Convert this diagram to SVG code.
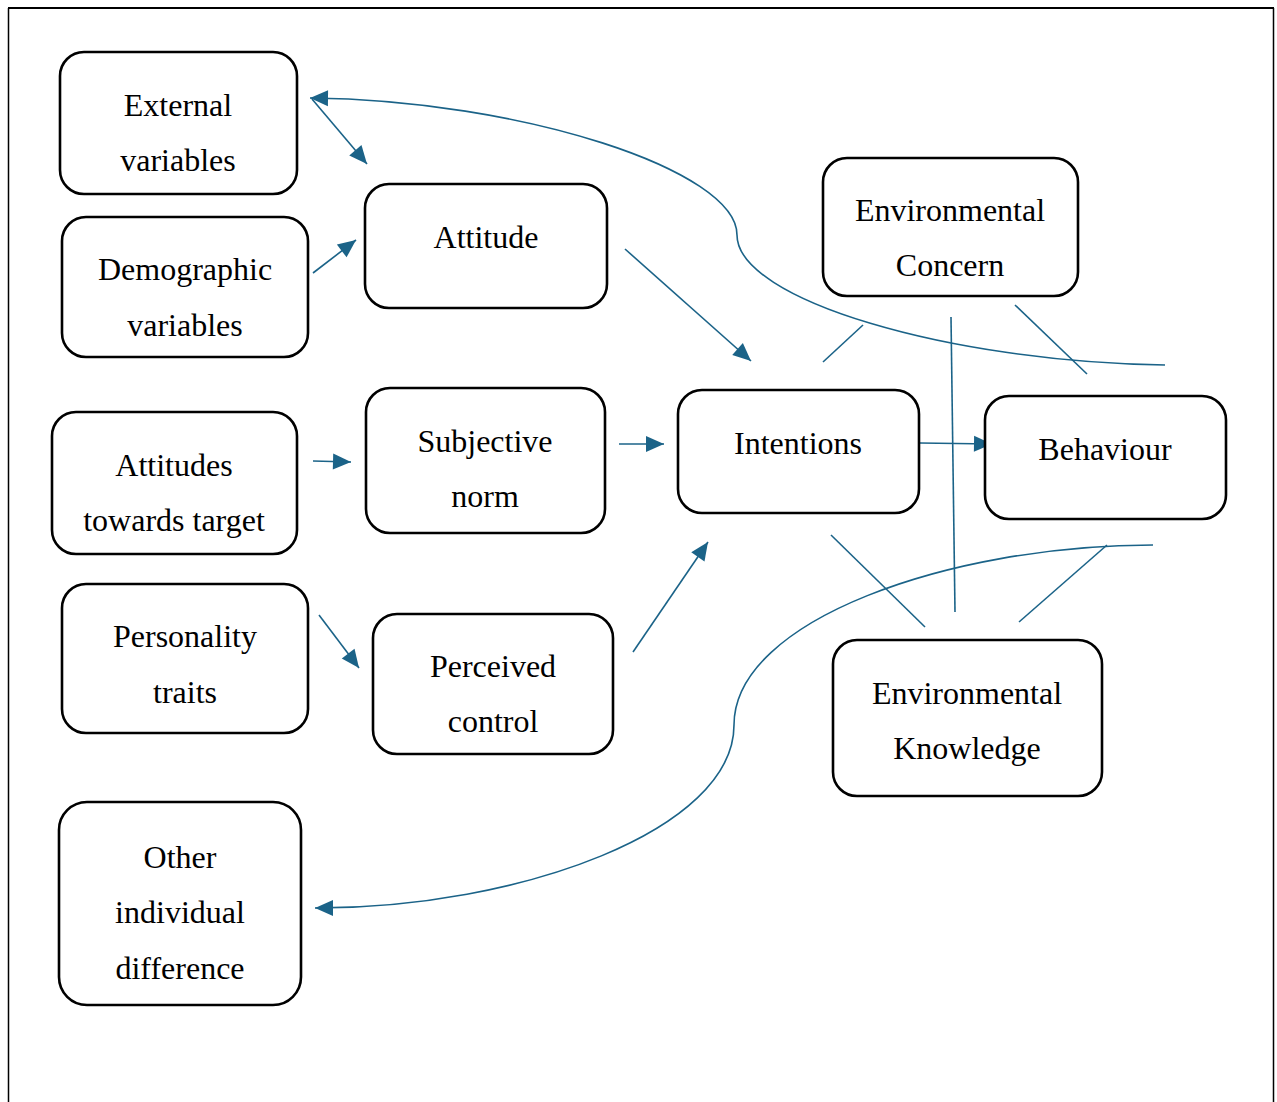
<svg xmlns="http://www.w3.org/2000/svg" width="1277" height="1102" viewBox="0 0 1277 1102">
  <style>
    .box { fill: #ffffff; stroke: #000000; stroke-width: 2.6; }
    .lbl { font-family: "Liberation Serif", "Times New Roman", serif; font-size: 32px; fill: #000000; text-anchor: middle; }
    .edge { fill: none; stroke: #1b6388; stroke-width: 1.6; }
    .frame { fill: none; stroke: #000000; }
  </style>
  <defs>
    <marker id="arrow" markerUnits="userSpaceOnUse" markerWidth="22" markerHeight="22" viewBox="0 0 22 22" refX="20" refY="11" orient="auto">
      <path d="M2,3 L20,11 L2,19 Z" fill="#1b6388"/>
    </marker>
  </defs>

  <rect width="1277" height="1102" fill="#ffffff"/>

  <!-- outer frame: top and sides only -->
  <g id="frame">
    <line class="frame" x1="8" y1="8" x2="1274" y2="8" stroke-width="2.2"/>
    <line class="frame" x1="8.5" y1="8" x2="8.5" y2="1102" stroke-width="1.5"/>
    <line class="frame" x1="1273.5" y1="8" x2="1273.5" y2="1102" stroke-width="1.5"/>
  </g>

  <g id="connectors">
    <path class="edge" d="M1165,365 C950,362 737,300 737,235 C737,170 520,100 310,98" marker-end="url(#arrow)"/>
    <line class="edge" x1="312" y1="99" x2="367" y2="164" marker-end="url(#arrow)"/>
    <line class="edge" x1="313" y1="273" x2="356" y2="240" marker-end="url(#arrow)"/>
    <line class="edge" x1="625" y1="249" x2="751" y2="361" marker-end="url(#arrow)"/>
    <line class="edge" x1="823" y1="362" x2="863" y2="325"/>
    <line class="edge" x1="313" y1="461" x2="351" y2="462" marker-end="url(#arrow)"/>
    <line class="edge" x1="619" y1="444" x2="664" y2="444" marker-end="url(#arrow)"/>
    <line class="edge" x1="920" y1="443" x2="992" y2="444" marker-end="url(#arrow)"/>
    <line class="edge" x1="951" y1="317" x2="955" y2="612"/>
    <line class="edge" x1="1015" y1="305" x2="1087" y2="374"/>
    <line class="edge" x1="831" y1="535" x2="925" y2="627"/>
    <line class="edge" x1="1019" y1="622" x2="1107" y2="545"/>
    <path class="edge" d="M1153,545 C950,545 734,620 734,725 C734,830 520,908 315,908" marker-end="url(#arrow)"/>
    <line class="edge" x1="319" y1="615" x2="359" y2="668" marker-end="url(#arrow)"/>
    <line class="edge" x1="633" y1="652" x2="708" y2="542" marker-end="url(#arrow)"/>
  </g>

  <g id="external-variables">
    <rect class="box" x="60" y="52" width="237" height="142" rx="24"/>
    <text class="lbl" x="178" y="116">External</text>
    <text class="lbl" x="178" y="171">variables</text>
  </g>
  <g id="demographic-variables">
    <rect class="box" x="62" y="217" width="246" height="140" rx="24"/>
    <text class="lbl" x="185" y="280">Demographic</text>
    <text class="lbl" x="185" y="336">variables</text>
  </g>
  <g id="attitude">
    <rect class="box" x="365" y="184" width="242" height="124" rx="24"/>
    <text class="lbl" x="486" y="248">Attitude</text>
  </g>
  <g id="attitudes-towards-target">
    <rect class="box" x="52" y="412" width="245" height="142" rx="24"/>
    <text class="lbl" x="174" y="476">Attitudes</text>
    <text class="lbl" x="174" y="531">towards target</text>
  </g>
  <g id="subjective-norm">
    <rect class="box" x="366" y="388" width="239" height="145" rx="24"/>
    <text class="lbl" x="485" y="452">Subjective</text>
    <text class="lbl" x="485" y="507">norm</text>
  </g>
  <g id="personality-traits">
    <rect class="box" x="62" y="584" width="246" height="149" rx="24"/>
    <text class="lbl" x="185" y="647">Personality</text>
    <text class="lbl" x="185" y="703">traits</text>
  </g>
  <g id="perceived-control">
    <rect class="box" x="373" y="614" width="240" height="140" rx="24"/>
    <text class="lbl" x="493" y="677">Perceived</text>
    <text class="lbl" x="493" y="732">control</text>
  </g>
  <g id="intentions">
    <rect class="box" x="678" y="390" width="241" height="123" rx="24"/>
    <text class="lbl" x="798" y="454">Intentions</text>
  </g>
  <g id="environmental-concern">
    <rect class="box" x="823" y="158" width="255" height="138" rx="24"/>
    <text class="lbl" x="950" y="221">Environmental</text>
    <text class="lbl" x="950" y="276">Concern</text>
  </g>
  <g id="behaviour">
    <rect class="box" x="985" y="396" width="241" height="123" rx="24"/>
    <text class="lbl" x="1105" y="460">Behaviour</text>
  </g>
  <g id="environmental-knowledge">
    <rect class="box" x="833" y="640" width="269" height="156" rx="24"/>
    <text class="lbl" x="967" y="704">Environmental</text>
    <text class="lbl" x="967" y="759">Knowledge</text>
  </g>
  <g id="other-individual-difference">
    <rect class="box" x="59" y="802" width="242" height="203" rx="28"/>
    <text class="lbl" x="180" y="868">Other</text>
    <text class="lbl" x="180" y="923">individual</text>
    <text class="lbl" x="180" y="979">difference</text>
  </g>
</svg>
